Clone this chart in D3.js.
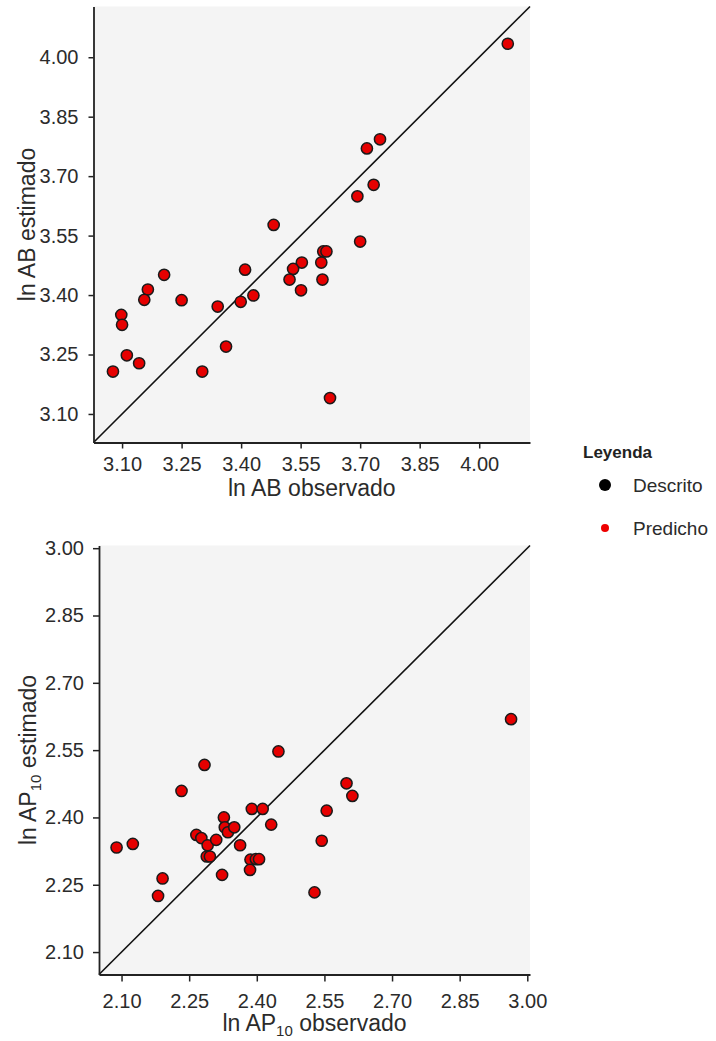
<!DOCTYPE html>
<html>
<head>
<meta charset="utf-8">
<script src="https://cdn.jsdelivr.net/npm/d3@7"></script>
<style>
  html, body { margin: 0; padding: 0; background: #fff; }
  svg { display: block; font-family: "Liberation Sans", Arial, sans-serif; }
</style>
</head>
<body>
<svg id="chart" width="716" height="1041"></svg>
<script>
// ---- Data ----
// Top panel: ln AB observado (x) vs ln AB estimado (y)
const abObservado = [4.072, 3.750, 3.717, 3.734, 3.693, 3.482, 3.700, 3.607, 3.615, 3.553,
  3.602, 3.531, 3.522, 3.605, 3.551, 3.410, 3.431, 3.399, 3.341, 3.250,
  3.206, 3.165, 3.156, 3.098, 3.100, 3.112, 3.143, 3.077, 3.302, 3.362, 3.624];
const abEstimado = [4.034, 3.793, 3.770, 3.678, 3.649, 3.577, 3.535, 3.510, 3.510, 3.482,
  3.482, 3.466, 3.439, 3.439, 3.412, 3.464, 3.399, 3.383, 3.371, 3.387,
  3.451, 3.414, 3.388, 3.350, 3.325, 3.248, 3.228, 3.207, 3.207, 3.270, 3.140];
const abTicks = [3.10, 3.25, 3.40, 3.55, 3.70, 3.85, 4.00];
const abDomain = [3.028, 4.128];

// Bottom panel: ln AP10 observado (x) vs ln AP10 estimado (y)
const apObservado = [2.448, 2.284, 2.233, 2.599, 2.612, 2.555, 2.389, 2.413, 2.432, 2.327,
  2.329, 2.336, 2.350, 2.266, 2.277, 2.291, 2.310, 2.289, 2.296, 2.363,
  2.544, 2.089, 2.125, 2.191, 2.181, 2.323, 2.386, 2.385, 2.398, 2.405, 2.528, 2.964];
const apEstimado = [2.547, 2.517, 2.459, 2.476, 2.448, 2.415, 2.419, 2.419, 2.384, 2.400,
  2.378, 2.367, 2.378, 2.361, 2.354, 2.338, 2.350, 2.313, 2.313, 2.338,
  2.348, 2.333, 2.341, 2.264, 2.225, 2.272, 2.306, 2.283, 2.307, 2.307, 2.233, 2.619];
const apTicks = [2.10, 2.25, 2.40, 2.55, 2.70, 2.85, 3.00];
const apDomain = [2.05, 3.006];

const legendTitle = "Leyenda";
const legendLabels = ["Descrito", "Predicho"];
const legendColors = ["#000000", "#ee0000"];

// ---- Drawing ----
const svg = d3.select("#chart");
const fmt = d3.format(".2f");
const textColor = "#2b2b2b";

function panel(cfg) {
  const x = d3.scaleLinear().domain(cfg.domain).range([cfg.left, cfg.right]);
  const y = d3.scaleLinear().domain(cfg.domain).range([cfg.bottom, cfg.top]);
  const g = svg.append("g");

  g.append("rect")
    .attr("x", cfg.left).attr("y", cfg.top)
    .attr("width", cfg.right - cfg.left).attr("height", cfg.bottom - cfg.top)
    .attr("fill", "#f4f4f4");

  // identity line
  g.append("line")
    .attr("x1", x(cfg.domain[0])).attr("y1", y(cfg.domain[0]))
    .attr("x2", x(cfg.domain[1])).attr("y2", y(cfg.domain[1]))
    .attr("stroke", "#111").attr("stroke-width", 1.6);

  // axes
  const xAxis = d3.axisBottom(x).tickValues(cfg.ticks).tickFormat(fmt)
    .tickSize(cfg.xTick).tickPadding(cfg.xPad).tickSizeOuter(0);
  const yAxis = d3.axisLeft(y).tickValues(cfg.ticks).tickFormat(fmt)
    .tickSize(cfg.yTick).tickPadding(cfg.yPad).tickSizeOuter(0);

  const gx = g.append("g").attr("transform", `translate(0,${cfg.bottom})`).call(xAxis);
  const gy = g.append("g").attr("transform", `translate(${cfg.left},0)`).call(yAxis);
  [gx, gy].forEach(a => {
    a.select(".domain").attr("stroke", "#222").attr("stroke-width", 1.8);
    a.selectAll(".tick line").attr("stroke", "#222").attr("stroke-width", 1.5);
    a.selectAll(".tick text").attr("fill", textColor)
      .style("font-size", "20px").style("font-family", "'Liberation Sans', Arial, sans-serif");
  });

  // points
  g.append("g").selectAll("circle")
    .data(cfg.xs.map((v, i) => [v, cfg.ys[i]]))
    .join("circle")
    .attr("cx", d => x(d[0])).attr("cy", d => y(d[1]))
    .attr("r", 5.6)
    .attr("fill", "#e60000").attr("stroke", "#1a1a1a").attr("stroke-width", 1.5);

  // x title
  const cx = (cfg.left + cfg.right) / 2;
  const xt = g.append("text").attr("x", cx).attr("y", cfg.xTitleY)
    .attr("text-anchor", "middle").attr("fill", textColor)
    .style("font-size", "23px");
  cfg.titleParts.forEach(p => {
    const t = xt.append("tspan").text(p.t);
    if (p.sub) t.attr("baseline-shift", "-30%").style("font-size", "15px");
  });
  xt.append("tspan").text(" observado");

  const cy = (cfg.top + cfg.bottom) / 2;
  const yt = g.append("text")
    .attr("transform", `translate(${cfg.yTitleX},${cy}) rotate(-90)`)
    .attr("text-anchor", "middle").attr("fill", textColor)
    .style("font-size", "23px");
  cfg.titleParts.forEach(p => {
    const t = yt.append("tspan").text(p.t);
    if (p.sub) t.attr("baseline-shift", "-30%").style("font-size", "15px");
  });
  yt.append("tspan").text(" estimado");
}

panel({
  left: 93.5, right: 530, top: 6.5, bottom: 442.5,
  domain: abDomain, ticks: abTicks,
  xs: abObservado, ys: abEstimado,
  xTick: 6, xPad: 8, yTick: 5, yPad: 10,
  titleParts: [{t: "ln AB"}],
  xTitleY: 496, yTitleX: 35
});

panel({
  left: 99, right: 530, top: 545.5, bottom: 974.5,
  domain: apDomain, ticks: apTicks,
  xs: apObservado, ys: apEstimado,
  xTick: 7, xPad: 12, yTick: 6, yPad: 9,
  titleParts: [{t: "ln AP"}, {t: "10", sub: true}],
  xTitleY: 1031, yTitleX: 36
});

// legend
const lg = svg.append("g");
lg.append("text").attr("x", 583).attr("y", 458).text(legendTitle)
  .attr("fill", "#222").style("font-size", "17px").style("font-weight", "bold");
const lr = [6, 4];
legendLabels.forEach((lab, i) => {
  const yy = 485 + i * 43;
  lg.append("circle").attr("cx", 605).attr("cy", yy).attr("r", lr[i]).attr("fill", legendColors[i]);
  lg.append("text").attr("x", 633).attr("y", yy + 7).text(lab)
    .attr("fill", textColor).style("font-size", "19px");
});
</script>
</body>
</html>
